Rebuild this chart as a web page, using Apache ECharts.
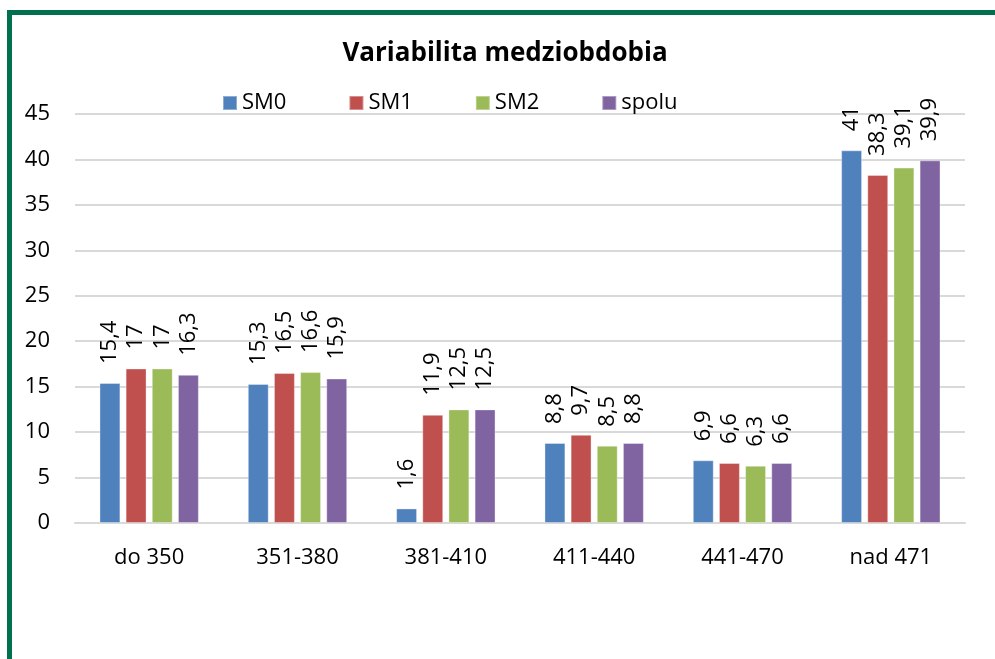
<!DOCTYPE html>
<html><head><meta charset="utf-8">
<script src="https://cdn.jsdelivr.net/npm/echarts@6/dist/echarts.min.js"></script>
<style>html,body{margin:0;padding:0;background:#fff}#c{width:995px;height:659px}</style>
</head><body><div id="c"></div>
<script>
const categories = ['do 350','351-380','381-410','411-440','441-470','nad 471'];
const seriesNames = ['SM0','SM1','SM2','spolu'];
const SM0 = [15.4, 15.3, 1.6, 8.8, 6.9, 41];
const SM1 = [17, 16.5, 11.9, 9.7, 6.6, 38.3];
const SM2 = [17, 16.6, 12.5, 8.5, 6.3, 39.1];
const spolu = [16.3, 15.9, 12.5, 8.8, 6.6, 39.9];
const yTicks = [0,5,10,15,20,25,30,35,40,45];
const colors = ['#4F81BD','#C0504D','#9BBB59','#8064A2'];
const FONT = '"Open Sans", "Liberation Sans", sans-serif';
const chart = echarts.init(document.getElementById('c'));
const data = [SM0, SM1, SM2, spolu];
chart.setOption({
  animation:false,
  title:{text:'Variabilita medziobdobia',left:500,textAlign:'center',top:36,textStyle:{fontFamily:FONT,fontSize:26,fontWeight:'bold',color:'#000'}},
  legend:{top:87,left:217,itemGap:62,itemWidth:14,itemHeight:14,icon:'rect',textStyle:{fontFamily:FONT,fontSize:22,color:'#000'},data:seriesNames},
  grid:{left:75,right:30,top:114,bottom:136,containLabel:false},
  xAxis:{type:'category',data:categories,axisTick:{show:false},axisLine:{lineStyle:{color:'#D9D9D9',width:2}},
    axisLabel:{fontFamily:FONT,fontSize:22,color:'#000',margin:24}},
  yAxis:{type:'value',min:yTicks[0],max:yTicks[yTicks.length-1],interval:5,axisLine:{show:false},axisTick:{show:false},
    splitLine:{lineStyle:{color:'#D9D9D9',width:2}},axisLabel:{fontFamily:FONT,fontSize:22,color:'#000',margin:25}},
  graphic:[
    {type:'rect',shape:{x:7,y:10,width:988,height:5},style:{fill:'#00704F'},z:100},
    {type:'rect',shape:{x:7,y:10,width:5,height:649},style:{fill:'#00704F'},z:100}
  ],
  series: seriesNames.map((n,i)=>({
    name:n,type:'bar',data:data[i],barGap:'25%',barCategoryGap:'33%',
    itemStyle:{color:colors[i],borderColor:'rgba(255,255,255,0.35)',borderWidth:1},
    label:{show:true,position:'top',rotate:90,align:'left',verticalAlign:'middle',distance:19,
      fontFamily:FONT,fontSize:22,color:'#000',formatter:p=>String(p.value).replace('.',',')}
  }))
});
</script></body></html>
